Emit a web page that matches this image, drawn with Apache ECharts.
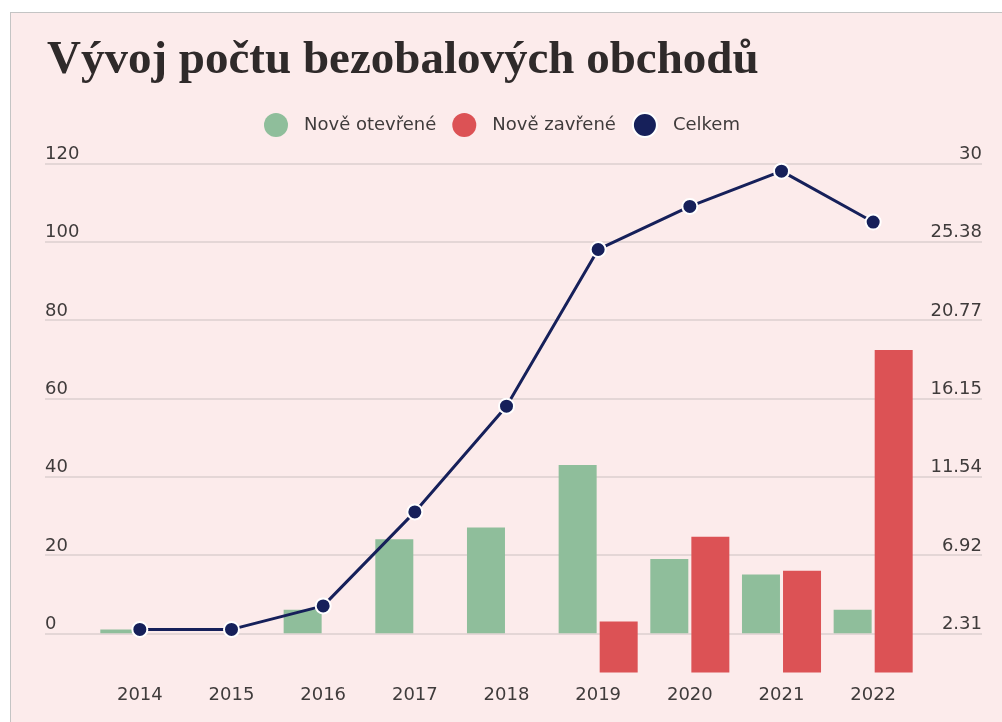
<!DOCTYPE html>
<html>
<head>
<meta charset="utf-8">
<script src="https://cdn.jsdelivr.net/npm/echarts@6/dist/echarts.min.js"></script>
<style>
  html, body { margin: 0; padding: 0; background: #fff; overflow: hidden; }
  #frame {
    position: absolute; left: 10px; top: 12px; width: 1100px; height: 800px;
    background: #fcebeb; border: 1px solid #c4c4c4;
  }
  #chart { position: absolute; left: 0; top: 0; width: 1002px; height: 722px; }
</style>
</head>
<body>
<div id="frame"></div>
<div id="chart"></div>
<script>
// data
const years = ['2014', '2015', '2016', '2017', '2018', '2019', '2020', '2021', '2022']
const opened = [1, 0, 6, 24, 27, 43, 19, 15, 6]
const closed = [0, 0, 0, 0, 0, 3, 8, 6, 19]
const total = [1, 1, 7, 31, 58, 98, 109, 118, 105]
const leftTicks = [0, 20, 40, 60, 80, 100, 120]
const rightTicks = [2.31, 6.92, 11.54, 16.15, 20.77, 25.38, 30]

const font = 'DejaVu Sans'
const labelColor = '#3f3b3b'

const chart = echarts.init(document.getElementById('chart'))

const option = {
  backgroundColor: 'transparent',
  textStyle: { fontFamily: font },
  title: {
    text: 'Vývoj počtu bezobalových obchodů',
    left: 47,
    top: 37,
    padding: 0,
    textStyle: {
      fontFamily: 'Liberation Serif',
      fontWeight: 'bold',
      fontSize: 47,
      color: '#2f2a2a'
    }
  },
  legend: {
    left: 264,
    top: 112,
    padding: 0,
    icon: 'circle',
    itemWidth: 24,
    itemHeight: 24,
    itemGap: 16,
    textStyle: {
      fontFamily: font,
      fontSize: 18,
      color: labelColor,
      padding: [0, 0, 0, 11]
    },
    data: ['Nově otevřené', 'Nově zavřené', 'Celkem']
  },
  // grid 0 only carries the y axis labels and split lines (wider area)
  // grid 1 carries the categories and the series
  grid: [
    { left: 45, right: 20, top: 163.3, bottom: 49.5 },
    { left: 94, right: 83, top: 163.3, bottom: 49.5 }
  ],
  xAxis: [
    { gridIndex: 0, type: 'value', min: 0, max: 1, show: false },
    {
      gridIndex: 1,
      type: 'category',
      data: years,
      axisLine: { show: false },
      axisTick: { show: false },
      axisLabel: { fontFamily: font, fontSize: 18, color: labelColor, margin: 14 }
    }
  ],
  yAxis: [
    {
      gridIndex: 0,
      type: 'value',
      position: 'left',
      min: -10,
      max: 120,
      axisLine: { show: false },
      axisTick: { show: false, customValues: leftTicks },
      axisLabel: {
        customValues: leftTicks,
        inside: true,
        margin: 0,
        align: 'left',
        verticalAlign: 'bottom',
        fontFamily: font,
        fontSize: 18,
        color: labelColor
      },
      splitLine: { show: true, lineStyle: { color: '#dccfcf', width: 1.5 } }
    },
    {
      gridIndex: 0,
      type: 'value',
      position: 'right',
      min: 0,
      max: 30,
      axisLine: { show: false },
      axisTick: { show: false, customValues: rightTicks },
      axisLabel: {
        customValues: rightTicks,
        inside: true,
        margin: 0,
        align: 'right',
        verticalAlign: 'bottom',
        fontFamily: font,
        fontSize: 18,
        color: labelColor
      },
      splitLine: { show: false }
    },
    { gridIndex: 1, type: 'value', min: -10, max: 120, show: false, splitLine: { show: false } },
    { gridIndex: 1, type: 'value', min: 0, max: 30, show: false, splitLine: { show: false } }
  ],
  series: [
    {
      name: 'Nově otevřené',
      type: 'bar',
      xAxisIndex: 1,
      yAxisIndex: 2,
      barWidth: 38,
      barGap: '8%',
      itemStyle: { color: '#8fbe9b' },
      data: opened
    },
    {
      name: 'Nově zavřené',
      type: 'bar',
      xAxisIndex: 1,
      yAxisIndex: 3,
      barWidth: 38,
      barGap: '8%',
      itemStyle: { color: '#dc5255' },
      data: closed
    },
    {
      name: 'Celkem',
      type: 'line',
      xAxisIndex: 1,
      yAxisIndex: 2,
      symbol: 'circle',
      symbolSize: 15,
      z: 5,
      lineStyle: { color: '#16205a', width: 3 },
      itemStyle: { color: '#16205a', borderColor: '#fff', borderWidth: 2 },
      data: total
    }
  ]
}

chart.setOption(option)
</script>
</body>
</html>
